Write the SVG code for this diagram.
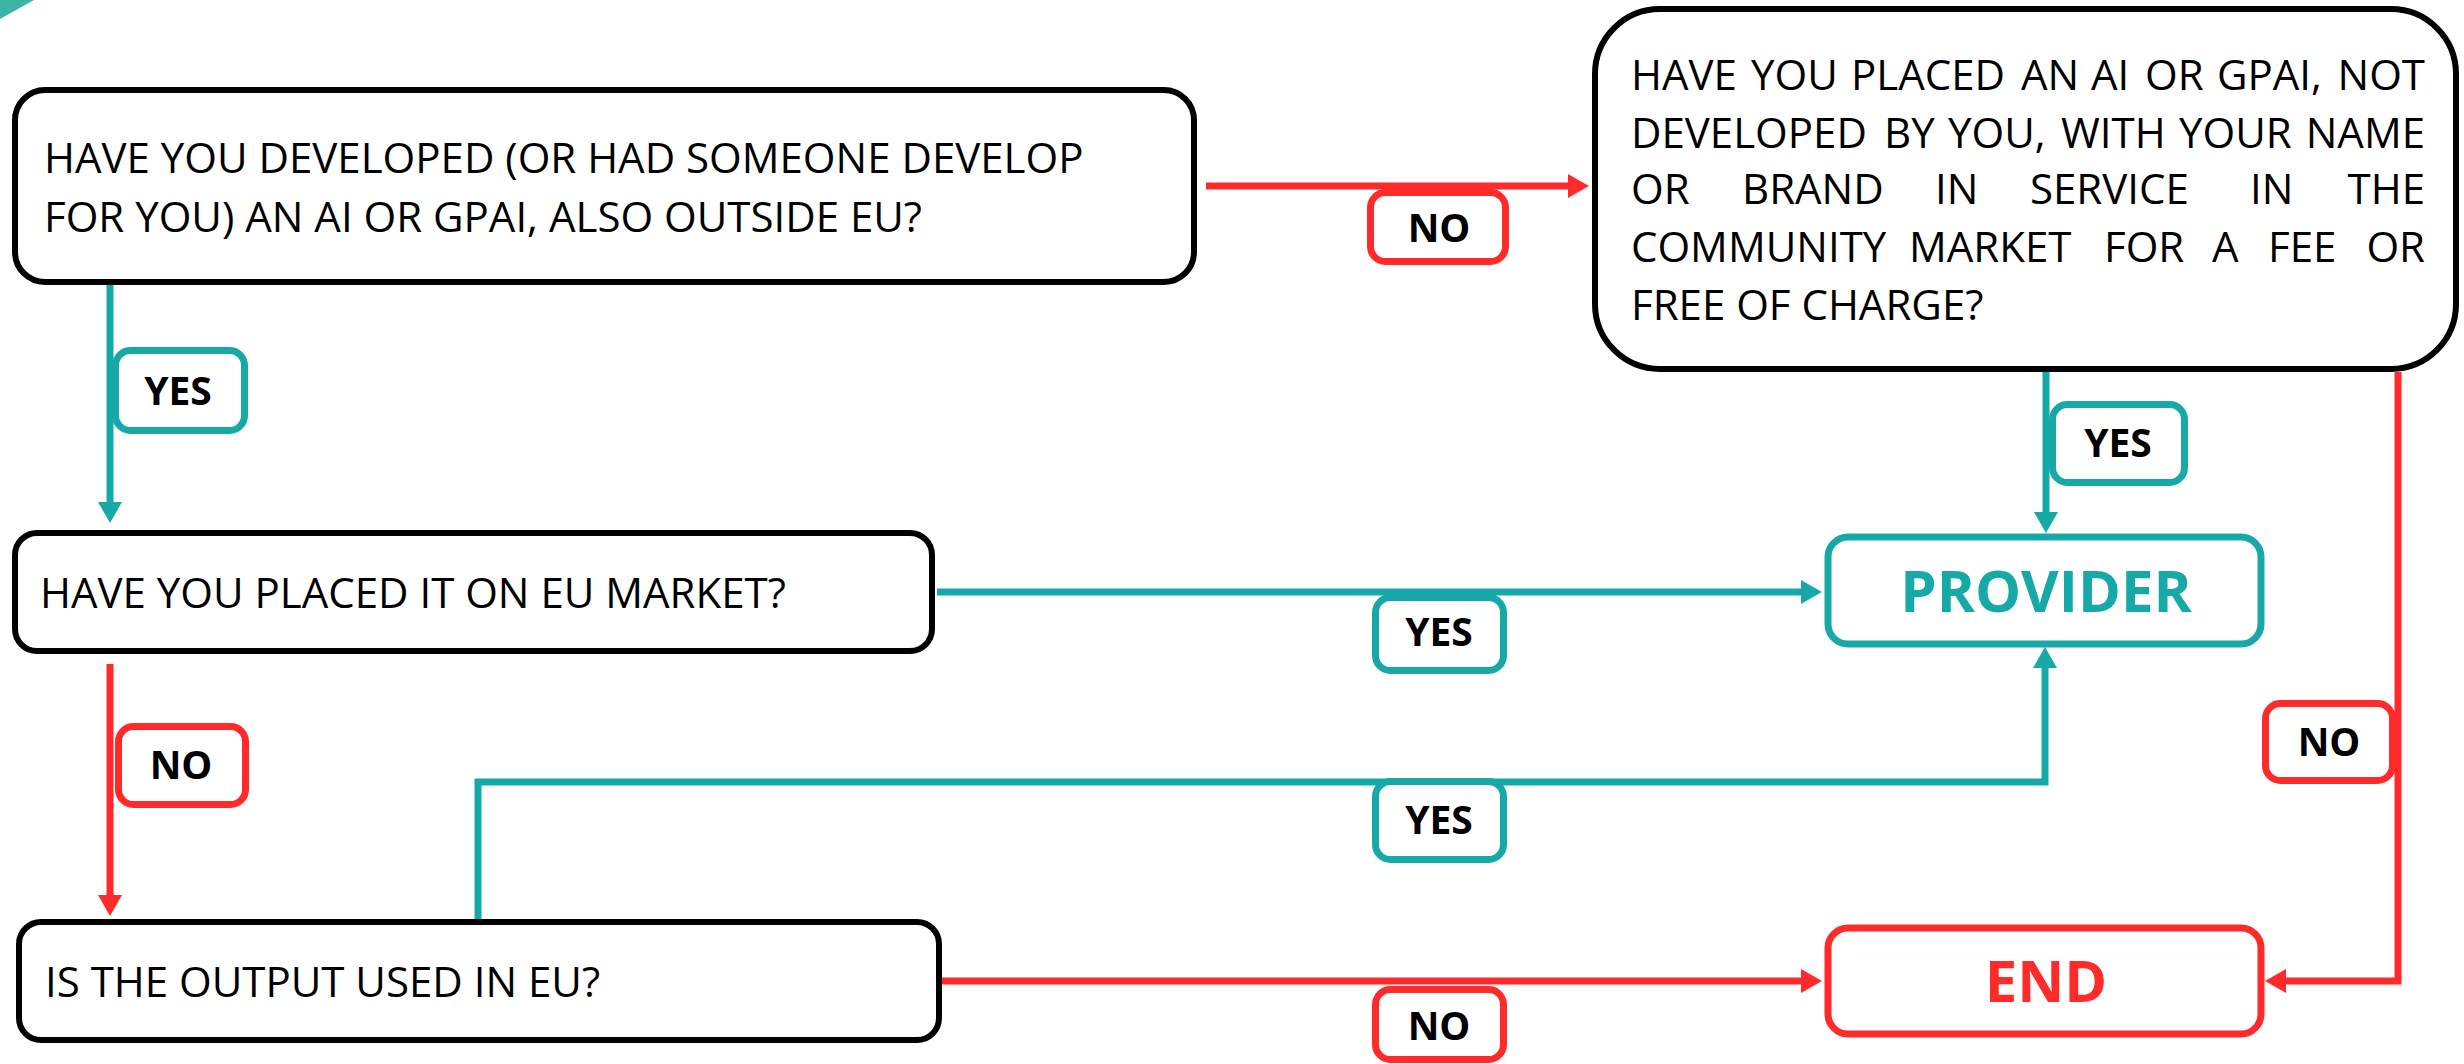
<svg xmlns="http://www.w3.org/2000/svg" width="2464" height="1064" viewBox="0 0 2464 1064">
  <defs>
    <style>
      .node { fill: #ffffff; stroke: #000000; stroke-width: 6; }
      .term-yes { fill: #ffffff; stroke: #17A9A8; stroke-width: 7; }
      .term-no { fill: #ffffff; stroke: #FF2B2B; stroke-width: 7; }
      .q { font-family: "Open Sans", "Noto Sans", sans-serif; font-size: 42px; fill: #000000; }
      .last { text-anchor: end; }
      .term-text { font-family: "Open Sans", "Noto Sans", sans-serif; font-size: 58px; font-weight: 700; text-anchor: middle; }
      .lbl-box-yes { fill: #ffffff; stroke: #17A9A8; stroke-width: 7; }
      .lbl-box-no { fill: #ffffff; stroke: #FF2B2B; stroke-width: 7; }
      .lbl { font-family: "Open Sans", "Noto Sans", sans-serif; font-size: 39px; font-weight: 700; fill: #000000; text-anchor: middle; }
      .c-yes { fill: none; stroke: #17A9A8; stroke-width: 7; }
      .c-no { fill: none; stroke: #FF2B2B; stroke-width: 7; }
    </style>
    <marker id="arrow-yes" markerUnits="userSpaceOnUse" markerWidth="22" markerHeight="24" refX="0" refY="12" orient="auto" overflow="visible">
      <path d="M0,0 L21,12 L0,24 z" fill="#17A9A8"/>
    </marker>
    <marker id="arrow-no" markerUnits="userSpaceOnUse" markerWidth="22" markerHeight="24" refX="0" refY="12" orient="auto" overflow="visible">
      <path d="M0,0 L21,12 L0,24 z" fill="#FF2B2B"/>
    </marker>
  </defs>

  <rect width="2464" height="1064" fill="#ffffff"/>
  <!-- corner accent -->
  <polygon points="0,0 34,0 0,19" fill="#3CB4A7"/>

  <!-- connectors -->
  <g id="connectors">
    <path class="c-yes" d="M110 285 V502" marker-end="url(#arrow-yes)"/>
    <path class="c-no" d="M1206 186 H1568" marker-end="url(#arrow-no)"/>
    <path class="c-yes" d="M937 592 H1801" marker-end="url(#arrow-yes)"/>
    <path class="c-yes" d="M2046 372 V512" marker-end="url(#arrow-yes)"/>
    <path class="c-yes" d="M478 919 V782 H2045 V668" marker-end="url(#arrow-yes)"/>
    <path class="c-no" d="M110 664 V895" marker-end="url(#arrow-no)"/>
    <path class="c-no" d="M942 981 H1801" marker-end="url(#arrow-no)"/>
    <path class="c-no" d="M2398 372 V981 H2286" marker-end="url(#arrow-no)"/>

    <!-- edge labels -->
    <g id="label-yes-1">
      <rect class="lbl-box-yes" x="115.5" y="350.5" width="129" height="80" rx="15"/>
      <text class="lbl" x="178" y="405">YES</text>
    </g>
    <g id="label-no-1">
      <rect class="lbl-box-no" x="1370.5" y="192.5" width="135" height="69" rx="15"/>
      <text class="lbl" x="1439" y="242">NO</text>
    </g>
    <g id="label-yes-2">
      <rect class="lbl-box-yes" x="1375.5" y="597.5" width="128" height="73" rx="15"/>
      <text class="lbl" x="1439" y="646">YES</text>
    </g>
    <g id="label-yes-3">
      <rect class="lbl-box-yes" x="2052.5" y="404.5" width="132" height="78" rx="15"/>
      <text class="lbl" x="2118" y="457">YES</text>
    </g>
    <g id="label-yes-4">
      <rect class="lbl-box-yes" x="1375.5" y="781.5" width="128" height="78" rx="15"/>
      <text class="lbl" x="1439" y="834">YES</text>
    </g>
    <g id="label-no-2">
      <rect class="lbl-box-no" x="118.5" y="726.5" width="127" height="78" rx="15"/>
      <text class="lbl" x="181" y="779">NO</text>
    </g>
    <g id="label-no-3">
      <rect class="lbl-box-no" x="2265.5" y="703.5" width="127" height="77" rx="15"/>
      <text class="lbl" x="2329" y="756">NO</text>
    </g>
    <g id="label-no-4">
      <rect class="lbl-box-no" x="1375.5" y="989.5" width="128" height="70" rx="15"/>
      <text class="lbl" x="1439" y="1040">NO</text>
    </g>
  </g>

  <!-- decision: developed -->
  <g id="q-developed">
    <rect class="node" x="15" y="90" width="1179" height="192" rx="30"/>
    <text class="q" x="44" y="173">HAVE YOU DEVELOPED (OR HAD SOMEONE DEVELOP</text>
    <text class="q" x="44" y="232">FOR YOU) AN AI OR GPAI, ALSO OUTSIDE EU?</text>
  </g>

  <!-- decision: placed under own name (justified lines) -->
  <g id="q-own-brand">
    <rect class="node" x="1595" y="9" width="861" height="360" rx="65"/>
    <text class="q" y="90"><tspan x="1631">HAVE</tspan><tspan x="1751">YOU</tspan><tspan x="1851">PLACED</tspan><tspan x="2021">AN</tspan><tspan x="2091">AI</tspan><tspan x="2145">OR</tspan><tspan x="2217">GPAI,</tspan><tspan class="last" x="2425">NOT</tspan></text>
    <text class="q" y="148"><tspan x="1631">DEVELOPED</tspan><tspan x="1884">BY</tspan><tspan x="1948">YOU,</tspan><tspan x="2061">WITH</tspan><tspan x="2179">YOUR</tspan><tspan class="last" x="2425">NAME</tspan></text>
    <text class="q" y="204"><tspan x="1631">OR</tspan><tspan x="1742">BRAND</tspan><tspan x="1935">IN</tspan><tspan x="2030">SERVICE</tspan><tspan x="2250">IN</tspan><tspan class="last" x="2425">THE</tspan></text>
    <text class="q" y="262"><tspan x="1631">COMMUNITY</tspan><tspan x="1909">MARKET</tspan><tspan x="2104">FOR</tspan><tspan x="2212">A</tspan><tspan x="2268">FEE</tspan><tspan class="last" x="2425">OR</tspan></text>
    <text class="q" x="1631" y="320">FREE OF CHARGE?</text>
  </g>

  <!-- decision: placed on market -->
  <g id="q-market">
    <rect class="node" x="15" y="533" width="917" height="118" rx="22"/>
    <text class="q" x="40" y="608">HAVE YOU PLACED IT ON EU MARKET?</text>
  </g>

  <!-- decision: output used -->
  <g id="q-output">
    <rect class="node" x="19" y="922" width="920" height="118" rx="22"/>
    <text class="q" x="45" y="997">IS THE OUTPUT USED IN EU?</text>
  </g>

  <!-- outcomes -->
  <g id="provider">
    <rect class="term-yes" x="1828" y="537" width="433" height="107" rx="20"/>
    <text class="term-text" x="2046" y="612" fill="#17A9A8">PROVIDER</text>
  </g>
  <g id="end">
    <rect class="term-no" x="1828" y="928" width="433" height="106" rx="20"/>
    <text class="term-text" x="2046" y="1002" fill="#FF2B2B">END</text>
  </g>
</svg>
